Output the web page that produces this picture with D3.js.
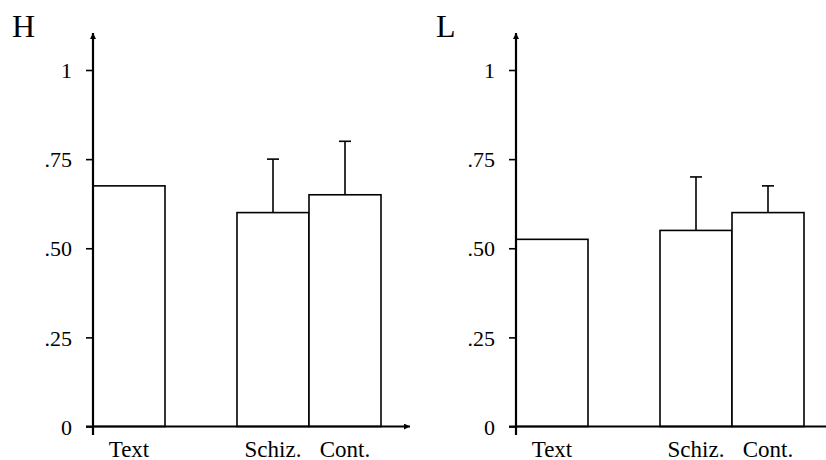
<!DOCTYPE html>
<html>
<head>
<meta charset="utf-8">
<script src="https://cdn.jsdelivr.net/npm/d3@7"></script>
<style>
  html, body { margin: 0; padding: 0; background: #fff; }
  svg { display: block; }
  text { font-family: "Liberation Serif", "Times New Roman", serif; fill: #000; }
</style>
</head>
<body>
<svg id="chart" width="826" height="460"></svg>
<script>
// ---- data ----
const categories = ["Text", "Schiz.", "Cont."];
const panelTitles = ["H", "L"];
const hValues = [0.675, 0.60, 0.65];
const hErrTop = [null, 0.75, 0.80];
const lValues = [0.525, 0.55, 0.60];
const lErrTop = [null, 0.70, 0.675];
const yTickValues = [0, 0.25, 0.5, 0.75, 1];
const yTickLabels = ["0", ".25", ".50", ".75", "1"];

const panels = [
  { title: panelTitles[0], values: hValues, err: hErrTop },
  { title: panelTitles[1], values: lValues, err: lErrTop }
];

// ---- layout ----
const svg = d3.select("#chart");
const axisXs = [93, 516];
const titleXs = [12, 436];
const y = d3.scaleLinear().domain([0, 1]).range([426.5, 70]);
const xDomain = [categories[0], "_gap", categories[1], categories[2]];
const x = d3.scaleBand().domain(xDomain).range([0, 288]).padding(0);

const defs = svg.append("defs");
defs.append("marker").attr("id", "arrow").attr("viewBox", "0 0 10 10")
  .attr("refX", 10).attr("refY", 5).attr("markerWidth", 10).attr("markerHeight", 6)
  .attr("markerUnits", "userSpaceOnUse").attr("orient", "auto")
  .append("path").attr("d", "M0,0 L10,5 L0,10 Z").attr("fill", "#000");

panels.forEach((p, i) => {
  const ox = axisXs[i];
  const g = svg.append("g").attr("transform", `translate(${ox},0)`);

  // title
  svg.append("text").attr("x", titleXs[i]).attr("y", 37)
    .attr("font-size", 32).text(p.title);

  // bars
  const data = categories.map((c, k) => ({ c, v: p.values[k], e: p.err[k] }));
  g.selectAll("rect.bar").data(data).enter().append("rect")
    .attr("class", "bar")
    .attr("x", d => x(d.c))
    .attr("y", d => y(d.v))
    .attr("width", x.bandwidth())
    .attr("height", d => y(0) - y(d.v))
    .attr("fill", "#fff").attr("stroke", "#000").attr("stroke-width", 1.6);

  // error bars
  const eb = data.filter(d => d.e != null);
  g.selectAll("line.err").data(eb).enter().append("line")
    .attr("x1", d => x(d.c) + x.bandwidth() / 2)
    .attr("x2", d => x(d.c) + x.bandwidth() / 2)
    .attr("y1", d => y(d.v)).attr("y2", d => y(d.e))
    .attr("stroke", "#000").attr("stroke-width", 1.6);
  g.selectAll("line.cap").data(eb).enter().append("line")
    .attr("x1", d => x(d.c) + x.bandwidth() / 2 - 6)
    .attr("x2", d => x(d.c) + x.bandwidth() / 2 + 6)
    .attr("y1", d => y(d.e)).attr("y2", d => y(d.e))
    .attr("stroke", "#000").attr("stroke-width", 1.6);

  // y axis ticks and labels
  const yAxis = d3.axisLeft(y).tickValues(yTickValues)
    .tickFormat((d, k) => yTickLabels[k]).tickSize(7).tickPadding(14);
  const ya = g.append("g").call(yAxis);
  ya.select(".domain").remove();
  ya.selectAll(".tick line").attr("stroke", "#000").attr("stroke-width", 1.6);
  ya.selectAll(".tick text").attr("font-size", 22)
    .attr("font-family", "Liberation Serif, Times New Roman, serif").attr("fill", "#000")
    .attr("dy", "0.35em");

  // axis lines with arrows
  g.append("line").attr("x1", 0).attr("x2", 0).attr("y1", 435).attr("y2", 33)
    .attr("stroke", "#000").attr("stroke-width", 2.2).attr("marker-end", "url(#arrow)");
  g.append("line").attr("x1", -7).attr("x2", 317).attr("y1", y(0)).attr("y2", y(0))
    .attr("stroke", "#000").attr("stroke-width", 2.2).attr("marker-end", "url(#arrow)");

  // x labels
  g.selectAll("text.xl").data(categories).enter().append("text")
    .attr("class", "xl")
    .attr("x", d => x(d) + x.bandwidth() / 2)
    .attr("y", 457).attr("text-anchor", "middle").attr("font-size", 23)
    .text(d => d);
});
</script>
</body>
</html>
